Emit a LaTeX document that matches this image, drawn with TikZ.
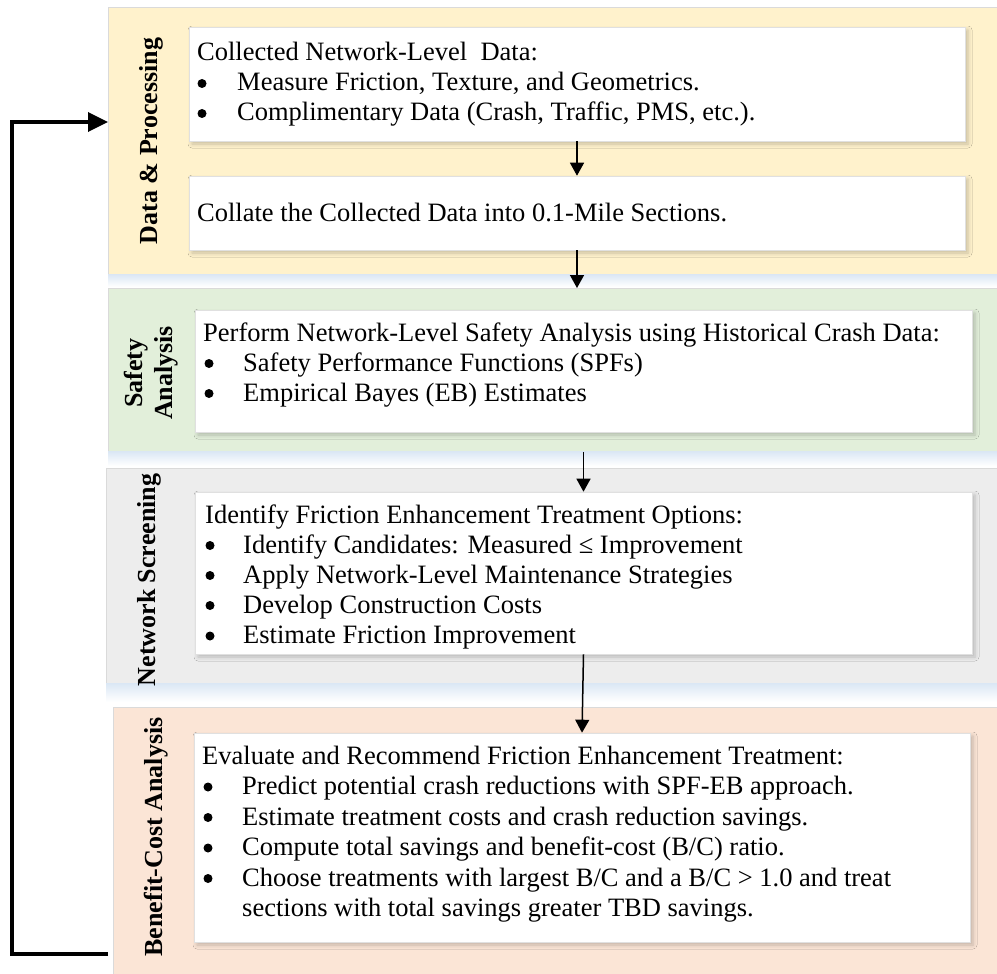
\documentclass[tikz,border=0pt]{standalone}
\usepackage{fontspec}
\setmainfont{Liberation Serif}
\usetikzlibrary{arrows.meta,shadows.blur,calc}
\definecolor{pyellow}{HTML}{FFF2CC}
\definecolor{pgreen}{HTML}{E2EFDA}
\definecolor{pgray}{HTML}{EDEDED}
\definecolor{ppeach}{HTML}{FBE5D6}
\definecolor{pedge}{HTML}{DADADA}
\definecolor{bedge}{HTML}{E0E0E0}
\definecolor{pshadow}{HTML}{DCE8F5}
\tikzset{
  panel/.style={draw=pedge, line width=0.8pt, anchor=north west, inner sep=0pt},
  box/.style={draw=bedge, fill=white, line width=0.6pt, inner sep=0pt,
    blur shadow={shadow xshift=3pt, shadow yshift=-3pt, shadow opacity=22, shadow blur radius=4pt}},
  txt/.style={font=\fontsize{26.5}{30}\selectfont, inner sep=0pt, anchor=base west},
  bul/.style={circle, fill=black, inner sep=0pt, minimum size=9pt, yshift=7.5pt},
  lab/.style={font=\fontsize{26}{30}\selectfont\bfseries, inner sep=0pt, anchor=base, rotate=90},
  arr/.style={line width=1.5pt, -{Triangle[length=13pt,width=14pt]}},
  fb/.style={line width=3.5pt, -{Triangle[length=20pt,width=19pt]}},
}
\begin{document}
\begin{tikzpicture}[x=1pt,y=-1pt]
\clip (0,0) rectangle (997,974);
\fill[white] (0,0) rectangle (997,974);

% panels
\node[panel,fill=pyellow,minimum width=895pt,minimum height=267pt] (p1) at (108,7) {};
\node[panel,fill=pgreen,minimum width=895pt,minimum height=163pt] (p2) at (108,288) {};
\node[panel,fill=pgray,minimum width=897pt,minimum height=215pt] (p3) at (106,468) {};
\node[panel,fill=ppeach,minimum width=890pt,minimum height=280pt] (p4) at (113,707) {};
\shade[top color=pshadow, bottom color=white] (p1.south west) rectangle ($(p1.south east)+(0,12)$);
\shade[top color=pshadow, bottom color=white] (p2.south west) rectangle ($(p2.south east)+(0,14)$);
\shade[top color=pshadow, bottom color=white] (p3.south west) rectangle ($(p3.south east)+(0,18)$);

% side labels
\node[lab] (l1) at (157,141) {Data \& Processing};
\node[lab] (l2a) at (142,373) {Safety};
\node[lab] (l2b) at (172,373) {Analysis};
\node[lab] (l3) at (155,580) {Network Screening};
\node[lab] (l4) at (162,837) {Benefit-Cost Analysis};

% inner boxes
\node[box,minimum width=776pt,minimum height=114pt] (b1) at (577,84) {};
\node[box,minimum width=776pt,minimum height=74pt] (b2) at (577,213) {};
\node[box,minimum width=777pt,minimum height=122pt] (b3) at (583.5,371) {};
\node[box,minimum width=777pt,minimum height=162pt] (b4) at (583.5,573) {};
\node[box,minimum width=776pt,minimum height=209pt] (b5) at (582,837.5) {};

% box 1
\node[txt] (t1a) at (197,61) {Collected Network-Level~ Data:};
\node[bul] (u1b) at (202,91) {};
\node[txt] (t1b) at (237,91) {Measure Friction, Texture, and Geometrics.};
\node[bul] (u1c) at (202,121) {};
\node[txt] (t1c) at (237,121) {Complimentary Data (Crash, Traffic, PMS, etc.).};
% box 2
\node[txt] (t2a) at (197,221) {Collate the Collected Data into 0.1-Mile Sections.};
% box 3
\node[txt] (t3a) at (203,341) {Perform Network-Level Safety Analysis using Historical Crash Data:};
\node[bul] (u3b) at (209,371) {};
\node[txt] (t3b) at (243,371) {Safety Performance Functions (SPFs)};
\node[bul] (u3c) at (209,401) {};
\node[txt] (t3c) at (243,401) {Empirical Bayes (EB) Estimates};
% box 4
\node[txt] (t4a) at (205,523) {Identify Friction Enhancement Treatment Options:};
\node[bul] (u4b) at (210,553) {};
\node[txt] (t4b) at (243,553) {Identify Candidates: Measured ≤ Improvement};
\node[bul] (u4c) at (210,583) {};
\node[txt] (t4c) at (243,583) {Apply Network-Level Maintenance Strategies};
\node[bul] (u4d) at (210,613) {};
\node[txt] (t4d) at (243,613) {Develop Construction Costs};
\node[bul] (u4e) at (210,643.5) {};
\node[txt] (t4e) at (243,643.5) {Estimate Friction Improvement};
% box 5
\node[txt] (t5a) at (202,764) {Evaluate and Recommend Friction Enhancement Treatment:};
\node[bul] (u5b) at (208,794.5) {};
\node[txt] (t5b) at (242,794.5) {Predict potential crash reductions with SPF-EB approach.};
\node[bul] (u5c) at (208,825) {};
\node[txt] (t5c) at (242,825) {Estimate treatment costs and crash reduction savings.};
\node[bul] (u5d) at (208,855.5) {};
\node[txt] (t5d) at (242,855.5) {Compute total savings and benefit-cost (B/C) ratio.};
\node[bul] (u5e) at (208,886) {};
\node[txt] (t5e) at (242,886) {Choose treatments with largest B/C and a B/C > 1.0 and treat};
\node[txt] (t5f) at (242,916.5) {sections with total savings greater TBD savings.};

% connectors
\draw[arr] (b1.south) -- (b2.north);
\draw[arr] (b2.south) -- (b2.south |- p2.north);
\draw[arr] (b4.north |- p2.south) -- (b4.north);
\draw[arr] (b4.south) -- (b5.north);

\coordinate (fbs) at (108,954);
\coordinate (fbk) at (12,122);
\draw[fb] (fbs) -| (fbk) -- (fbk -| p1.west);
\end{tikzpicture}
\end{document}
